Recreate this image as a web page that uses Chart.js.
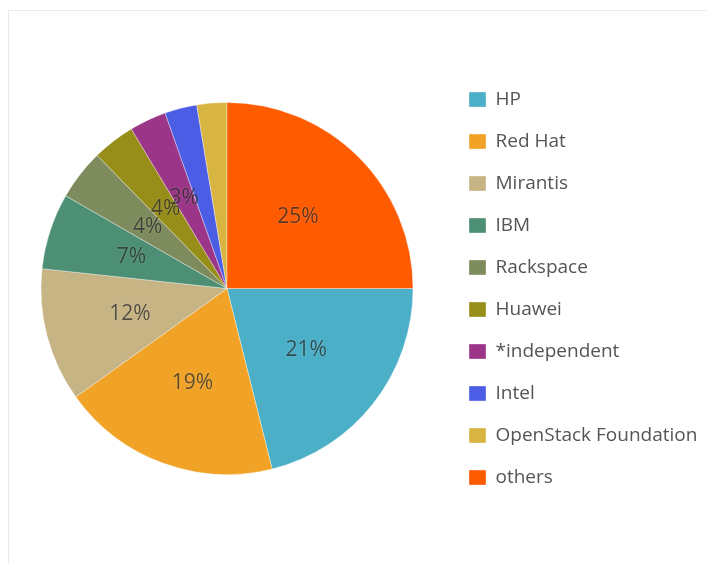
<!DOCTYPE html>
<html>
<head>
<meta charset="utf-8">
<script src="https://cdn.jsdelivr.net/npm/chart.js@4.4.1/dist/chart.umd.min.js"></script>
<style>
  html, body { margin: 0; padding: 0; background: #fff; overflow: hidden; }
  #frame { position: absolute; left: 8px; top: 10px; width: 720px; height: 570px;
           border-top: 1px solid #ebebeb; border-left: 1px solid #ebebeb; }
  #chart { position: absolute; left: 0; top: 0; }
</style>
</head>
<body>
<div id="frame"></div>
<canvas id="chart" width="707" height="563"></canvas>
<script>
var labels = ['HP', 'Red Hat', 'Mirantis', 'IBM', 'Rackspace', 'Huawei', '*independent', 'Intel', 'OpenStack Foundation', 'others'];
var shares = [21.1, 19.0, 11.6, 6.6, 4.4, 3.7, 3.2, 2.8, 2.6, 25.0];
var colors = ['#4aafc7', '#f0a327', '#c7b484', '#4c8f74', '#7e8c5d', '#978d19', '#9b3587', '#4b5de4', '#d8b443', '#ff5b00'];

var fontFamily = "'Open Sans', 'Noto Sans', sans-serif";
var legendFont = 19;
var boxW = 17, boxH = 15, legendPad = 23;

// work out how wide the legend will be so the pie lands where it should
var mctx = document.createElement('canvas').getContext('2d');
mctx.font = legendFont + 'px ' + fontFamily;
var widest = 0;
for (var i = 0; i < labels.length; i++) {
    widest = Math.max(widest, mctx.measureText(labels[i]).width);
}
var legendNatural = legendPad + boxW + legendFont / 2 + widest + 10;
var legendRoom = 707 - 446;
var padRight = Math.max(0, legendRoom - legendNatural);

var sliceLabels = {
    id: 'sliceLabels',
    afterDatasetsDraw: function (chart) {
        var ctx = chart.ctx;
        var meta = chart.getDatasetMeta(0);
        var data = chart.data.datasets[0].data;
        var total = 0;
        for (var i = 0; i < data.length; i++) total += data[i];
        ctx.save();
        ctx.font = '21px ' + fontFamily;
        ctx.textAlign = 'center';
        ctx.textBaseline = 'middle';
        ctx.fillStyle = 'rgba(20,20,20,0.68)';
        ctx.shadowColor = 'rgba(255,255,255,0.45)';
        ctx.shadowBlur = 2;
        meta.data.forEach(function (arc, i) {
            var pct = data[i] / total * 100;
            if (pct < 3) return;
            var p = arc.getProps(['x', 'y', 'startAngle', 'endAngle', 'outerRadius'], true);
            var mid = (p.startAngle + p.endAngle) / 2;
            var r = p.outerRadius * 0.54;
            ctx.fillText(Math.round(pct) + '%', p.x + Math.cos(mid) * r, p.y + Math.sin(mid) * r);
        });
        ctx.restore();
    }
};

var ctx = document.getElementById('chart').getContext('2d');
var myChart = new Chart(ctx, {
    type: 'pie',
    data: {
        labels: labels,
        datasets: [{
            data: shares,
            backgroundColor: colors,
            borderColor: 'rgba(255,255,255,0.35)',
            borderWidth: 1,
            radius: 186
        }]
    },
    options: {
        responsive: false,
        animation: false,
        devicePixelRatio: 1,
        rotation: 90,
        layout: {
            padding: { left: 8, top: 14, bottom: 0, right: padRight }
        },
        plugins: {
            tooltip: { enabled: false },
            legend: {
                position: 'right',
                maxWidth: legendRoom,
                labels: {
                    boxWidth: boxW,
                    boxHeight: boxH,
                    padding: legendPad,
                    color: '#555',
                    font: { family: fontFamily, size: legendFont }
                }
            }
        }
    },
    plugins: [sliceLabels]
});
</script>
</body>
</html>
